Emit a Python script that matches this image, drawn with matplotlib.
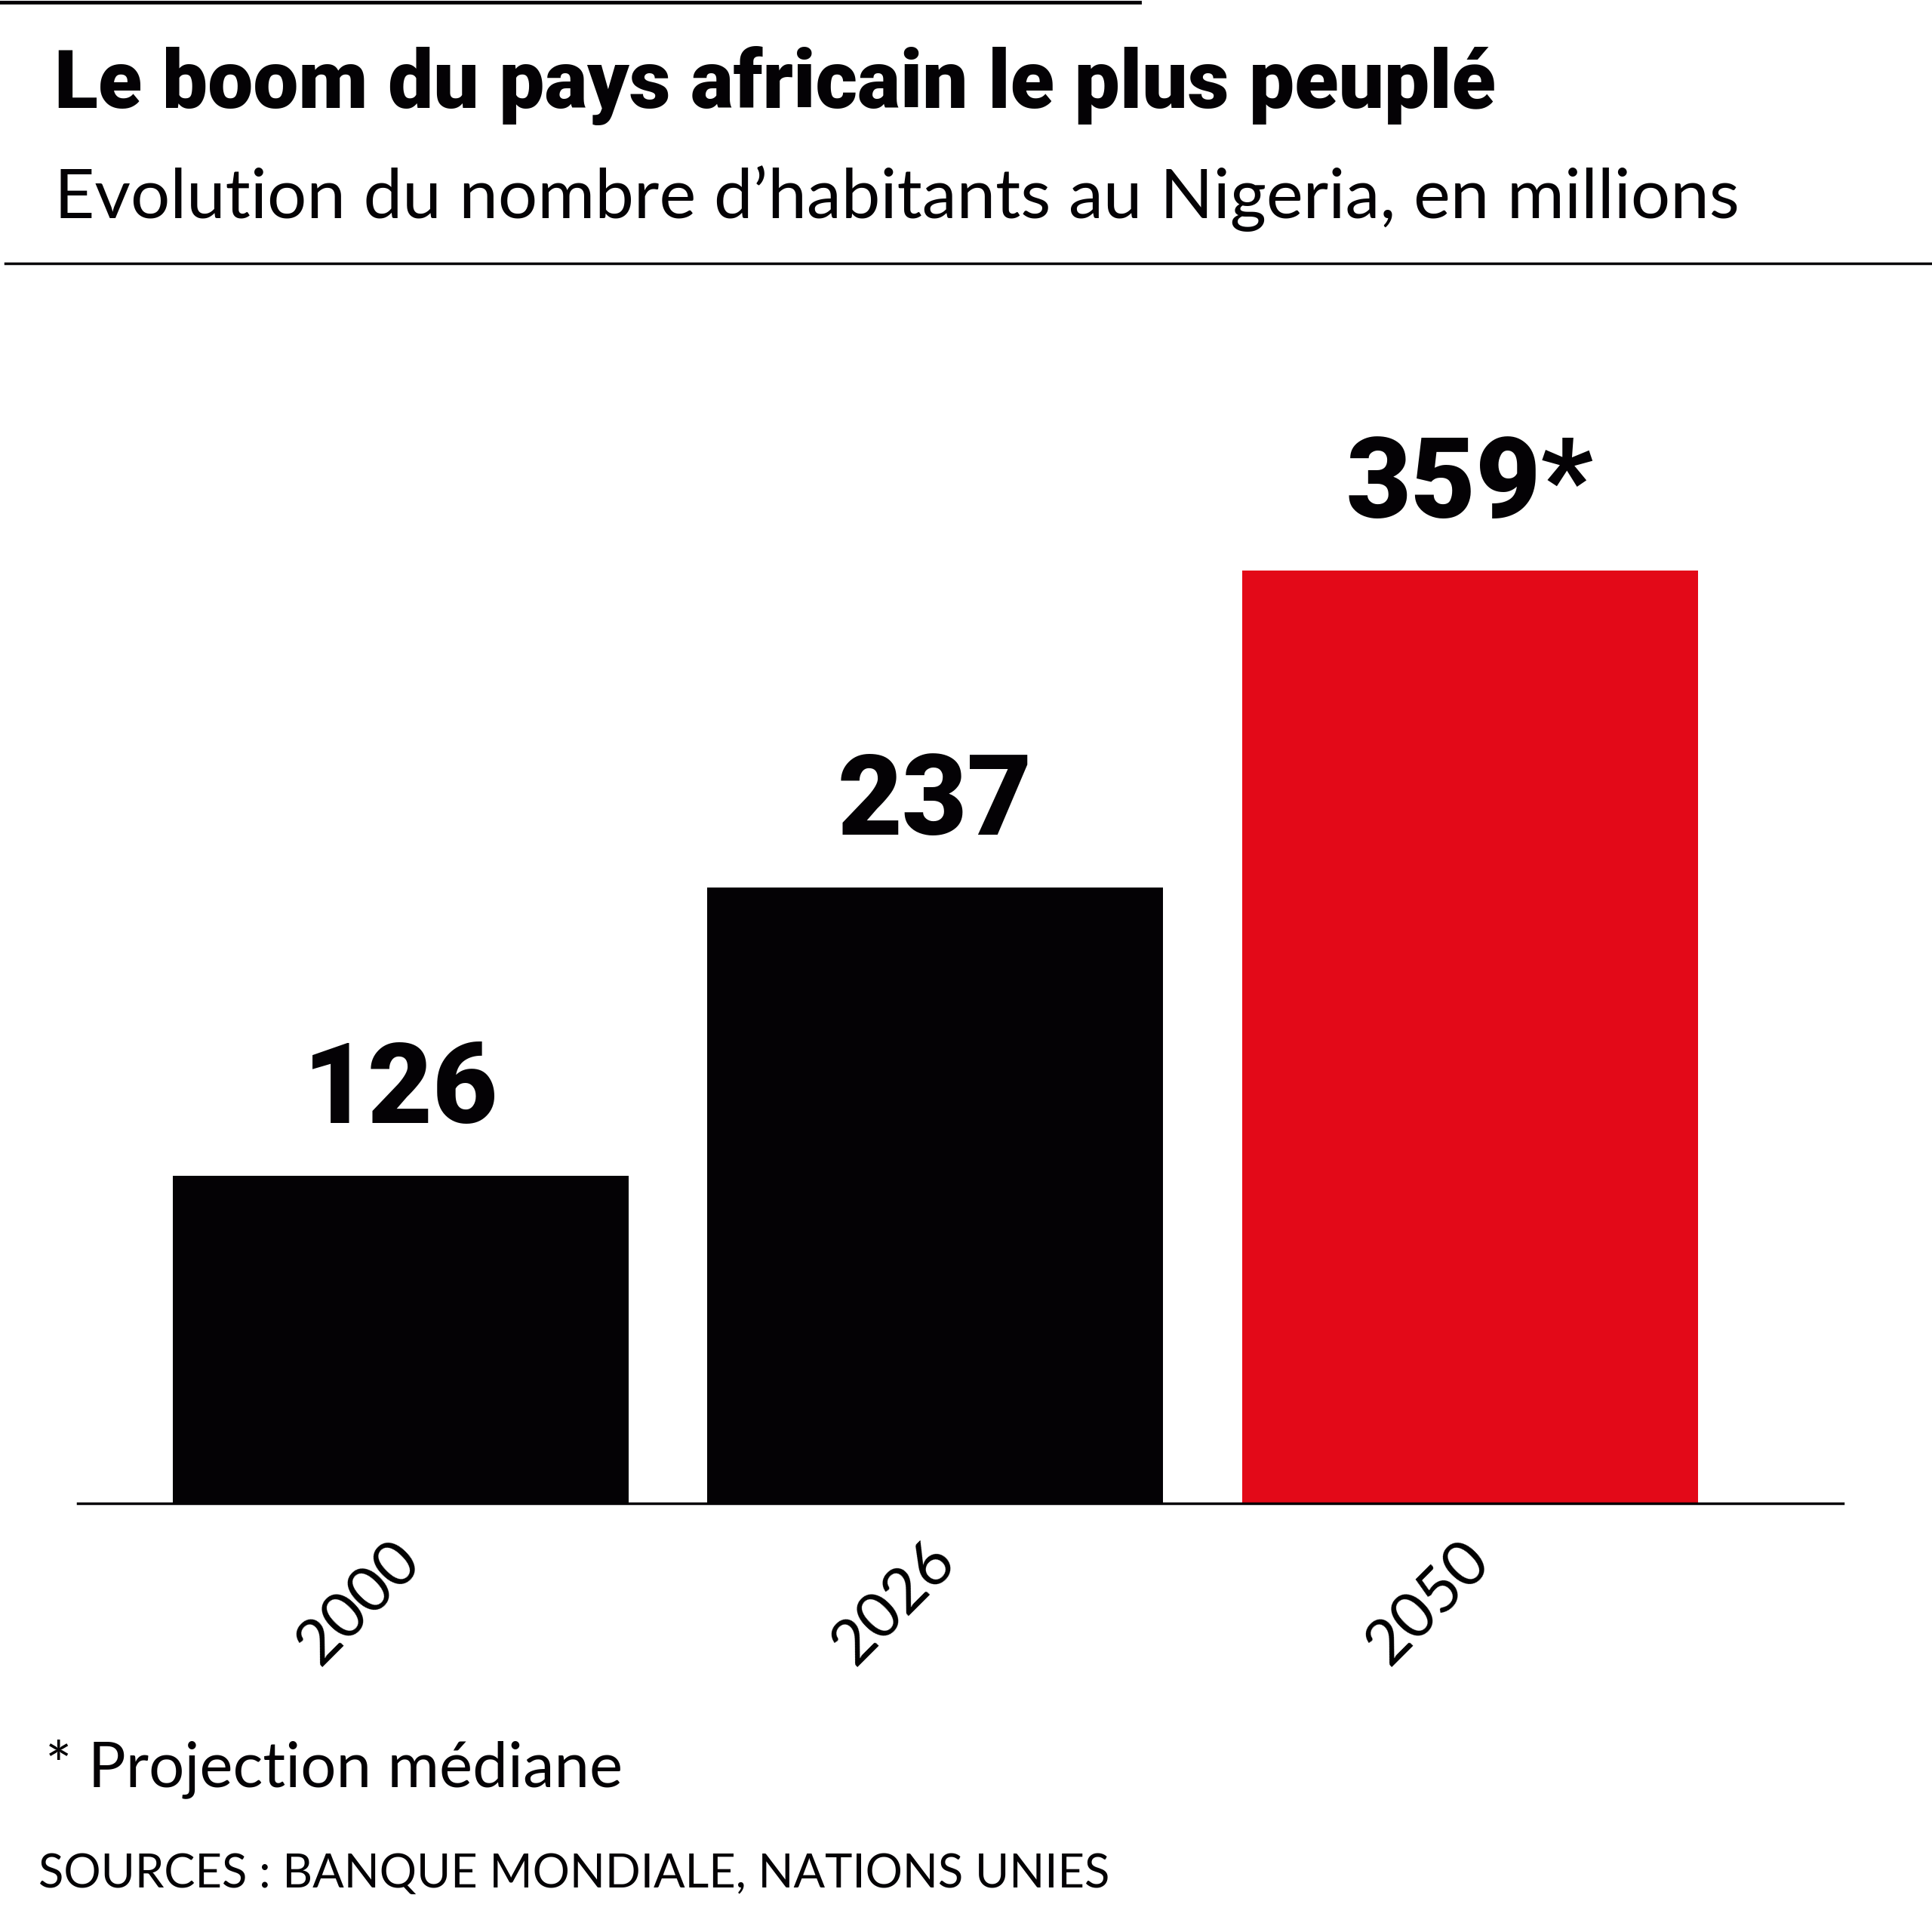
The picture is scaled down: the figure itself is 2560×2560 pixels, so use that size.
import matplotlib.pyplot as plt
import matplotlib.transforms as mtransforms
from matplotlib.lines import Line2D

# data
years = ["2000", "2026", "2050"]
population = [126, 237, 359]
value_labels = ["126", "237", "359*"]
bar_colors = ["#040205", "#040205", "#e30918"]

title = "Le boom du pays africain le plus peuplé"
subtitle = "Evolution du nombre d\u2019habitants au Nigeria, en millions"
footnote = "* Projection médiane"
sources = "SOURCES : BANQUE MONDIALE, NATIONS UNIES"

heavy = ["Roboto", "DejaVu Sans"]
light = ["Lato", "DejaVu Sans"]

fig = plt.figure(figsize=(25.6, 25.6), dpi=100)
ax = fig.add_axes([0.0402, 0.2219, 0.9138, 0.6186])

x = range(len(years))
ax.bar(x, population, width=0.8525, color=bar_colors)

for i, v in enumerate(population):
    ax.annotate(value_labels[i], (i, v), xytext=(0, 70), textcoords="offset pixels",
                ha="center", va="baseline", fontsize=107, fontweight=900,
                family=heavy, color="#040205")

ax.set_xlim(-0.6037, 2.698)
ax.set_ylim(0, 460)
ax.set_yticks([])
ax.set_xticks(list(x))
ax.set_xticklabels(years, rotation=45, ha="right", va="top", rotation_mode="anchor",
                   fontsize=60, family=light, fontweight="normal")
ax.tick_params(axis="x", length=0, pad=30)
shift = mtransforms.ScaledTranslation(-0.13, 0.04, fig.dpi_scale_trans)
for lab in ax.get_xticklabels():
    lab.set_transform(lab.get_transform() + shift)
for s in ["top", "right", "left"]:
    ax.spines[s].set_visible(False)
ax.spines["bottom"].set_linewidth(2.5)
ax.spines["bottom"].set_color("#040205")

# header
fig.add_artist(Line2D([0, 0.59], [0.999, 0.999], color="#040205", lw=3.5))
fig.text(0.028, 0.944, title, fontsize=77, fontweight=900, family=heavy,
         color="#040205", va="baseline")
fig.text(0.028, 0.887, subtitle, fontsize=66.5, fontweight="normal", family=light,
         color="#040205", va="baseline")
fig.add_artist(Line2D([0.0026, 1], [0.8635, 0.8635], color="#040205", lw=2.5))

# footer
fig.text(0.0236, 0.0753, footnote, fontsize=60, fontweight="normal", family=light,
         color="#040205", va="baseline")
fig.text(0.0198, 0.023, sources, fontsize=44.3, fontweight="normal", family=light,
         color="#040205", va="baseline")

fig.savefig("out.png", dpi=100, facecolor="white")
